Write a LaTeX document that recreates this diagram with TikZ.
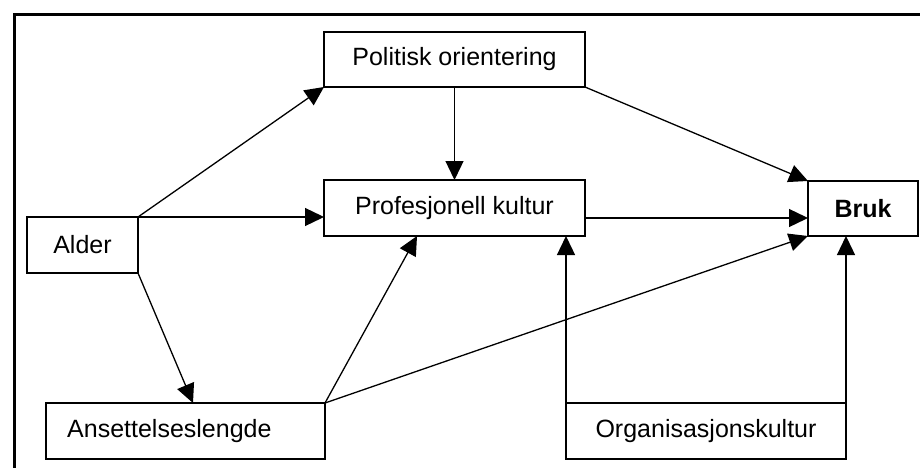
\documentclass[tikz,border=0pt]{standalone}
\usepackage{fontspec}
\setmainfont{Liberation Sans}
\usetikzlibrary{arrows.meta}
\begin{document}
\begin{tikzpicture}[x=1pt,y=-1pt,
  box/.style={draw, line width=1.4pt, rectangle, inner sep=0pt, outer sep=0pt,
    font=\fontsize{25}{30}\selectfont},
  link/.style={line width=1.3pt, -{Triangle[length=19pt,width=18pt]}},
  frameline/.style={line width=3pt}]
  \useasboundingbox (0,0) rectangle (920,468);
  % open frame: top and left edges
  \draw[frameline] (14,468) -- (14,15) -- (920,15);

  % variables
  \node[box, minimum width=111pt, minimum height=56pt] (alder) at (82.5,245) {Alder};
  \node[box, minimum width=261pt, minimum height=55pt] (pol) at (454.5,59.5) {Politisk orientering};
  \node[box, minimum width=261pt, minimum height=56pt] (prof) at (454.5,208) {Profesjonell kultur};
  \node[box, minimum width=110pt, minimum height=55pt] (bruk) at (863,208.5) {\bfseries Bruk};
  \node[box, minimum width=279pt, minimum height=56pt] (ans) at (185.5,431) {};
  \node[font=\fontsize{25}{30}\selectfont, anchor=west, inner sep=0pt] (anstext) at (67,431) {Ansettelseslengde};
  \node[box, minimum width=280pt, minimum height=56pt] (org) at (706,431) {Organisasjonskultur};

  % effects
  \draw[link] (alder.north east) -- (pol.south west);
  \draw[link] (alder.north east) -- (alder.north east -| prof.west);
  \draw[link] (alder.south east) -- ([xshift=147pt]ans.north west);
  \draw[link] (pol.south) -- (prof.north);
  \draw[link] (pol.south east) -- (bruk.north west);
  \draw[link] ([yshift=-10pt]prof.east) -- ([yshift=-10pt]prof.east -| bruk.west);
  \draw[link] (ans.north east) -- ([xshift=-37.5pt]prof.south);
  \draw[link] (ans.north east) -- (bruk.south west);
  \draw[link] (org.north west) -- (org.north west |- prof.south);
  \draw[link] (org.north east) -- (org.north east |- bruk.south);
\end{tikzpicture}
\end{document}
